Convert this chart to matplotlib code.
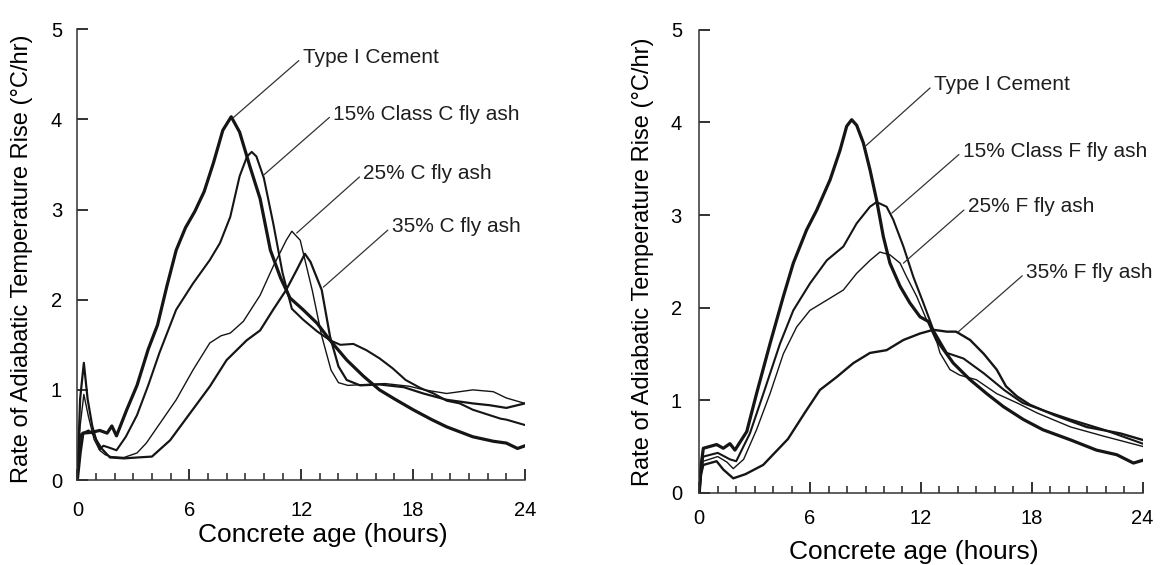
import numpy as np
import matplotlib as mpl
mpl.use('Agg')
import matplotlib.pyplot as plt
from matplotlib.ticker import MultipleLocator


plt.rcParams['font.family'] = ['Liberation Sans', 'DejaVu Sans']

# ---- left panel: Class C fly ash ----
c_type1_hr = [0, 0.15, 0.3, 0.8, 1.2, 1.6, 1.85, 2.1, 2.65, 3.2, 3.8, 4.3, 4.8, 5.3,
              5.8, 6.3, 6.8, 7.3, 7.8, 8.25, 8.7, 9.25, 9.8, 10.35, 10.9, 11.4,
              12.1, 12.85, 13.55, 14.45, 15.35, 16.2, 17.0, 18.0, 19.0, 19.8,
              21.2, 22.3, 23.0, 23.6, 24.0]
c_type1_rate = [0, 0.3, 0.52, 0.53, 0.55, 0.52, 0.6, 0.49, 0.78, 1.05, 1.45, 1.72,
                2.15, 2.55, 2.8, 2.98, 3.2, 3.52, 3.88, 4.03, 3.86, 3.48, 3.12,
                2.55, 2.24, 2.02, 1.89, 1.74, 1.55, 1.33, 1.15, 1.0, 0.9, 0.78,
                0.67, 0.59, 0.48, 0.43, 0.41, 0.35, 0.38]

c15_hr = [0, 0.15, 0.3, 0.6, 0.9, 1.05, 1.2, 1.4, 1.7, 2.1, 2.6, 3.2, 3.8, 4.4,
          5.3, 6.2, 7.1, 7.65, 8.2, 8.7, 9.1, 9.35, 9.6, 10.0, 10.5, 11.0, 11.5,
          12.1, 12.85, 13.55, 14.1, 14.8, 15.5, 16.2, 16.9, 17.6, 18.4, 19.1,
          19.8, 20.5, 21.2, 22.7, 23.0, 24.0]
c15_rate = [0, 0.5, 0.52, 0.55, 0.5, 0.43, 0.34, 0.38, 0.36, 0.33, 0.48, 0.72,
            1.05, 1.41, 1.89, 2.18, 2.44, 2.63, 2.92, 3.37, 3.59, 3.64, 3.59,
            3.35, 2.85, 2.3, 1.9, 1.78, 1.65, 1.55, 1.5, 1.51, 1.44, 1.35, 1.24,
            1.11, 1.02, 0.96, 0.88, 0.85, 0.78, 0.68, 0.67, 0.61]

c25_hr = [0, 0.15, 0.35, 0.6, 0.9, 1.2, 1.5, 1.8, 2.5, 3.2, 3.7, 4.4, 5.3, 6.2,
          7.1, 7.7, 8.2, 8.9, 9.8, 10.5, 11.2, 11.5, 11.95, 12.1, 12.6, 13.1,
          13.6, 14.0, 14.5, 15.5, 16.5, 17.8, 18.6, 19.8, 21.2, 22.3, 23.0,
          24.0]
c25_rate = [0, 0.6, 0.95, 0.7, 0.45, 0.33, 0.28, 0.26, 0.25, 0.3, 0.41, 0.62,
            0.89, 1.22, 1.52, 1.6, 1.63, 1.76, 2.05, 2.37, 2.66, 2.76, 2.66,
            2.53, 2.1, 1.6, 1.22, 1.08, 1.05, 1.06, 1.07, 1.04, 1.0, 0.96, 1.0,
            0.98, 0.91, 0.85]

c35_hr = [0, 0.15, 0.35, 0.55, 0.8, 1.0, 1.3, 1.75, 2.5, 3.2, 4.0, 4.97, 6.04,
          7.11, 8.0, 9.08, 9.8, 10.5, 11.2, 11.76, 12.2, 12.5, 13.1, 13.55,
          14.0, 14.44, 15.16, 16.2, 17.5, 18.55, 19.8, 21.2, 22.1, 23.0, 24.0]
c35_rate = [0, 0.9, 1.3, 0.9, 0.6, 0.45, 0.35, 0.25, 0.24, 0.25, 0.26, 0.44,
            0.74, 1.04, 1.33, 1.55, 1.66, 1.89, 2.11, 2.33, 2.51, 2.42, 2.11,
            1.59, 1.26, 1.11, 1.05, 1.06, 1.03, 0.96, 0.89, 0.85, 0.83, 0.80,
            0.85]

# ---- right panel: Class F fly ash ----
f_type1_hr = [0, 0.1, 0.22, 0.94, 1.3, 1.66, 1.93, 2.57, 3.1, 3.83, 4.55, 5.09,
              5.81, 6.35, 7.08, 7.62, 7.98, 8.25, 8.52, 8.88, 9.24, 9.6, 9.96,
              10.32, 10.87, 11.4, 11.95, 12.4, 12.85, 13.75, 14.66, 15.56, 16.46,
              17.55, 18.6, 20.1, 21.5, 22.6, 23.5, 24.0]
f_type1_rate = [0, 0.3, 0.48, 0.52, 0.48, 0.53, 0.46, 0.66, 1.07, 1.61, 2.12,
                2.48, 2.84, 3.05, 3.38, 3.70, 3.96, 4.03, 3.97, 3.78, 3.49, 3.16,
                2.77, 2.48, 2.23, 2.05, 1.90, 1.85, 1.65, 1.40, 1.22, 1.07, 0.93,
                0.79, 0.68, 0.57, 0.46, 0.41, 0.32, 0.35]

f15_hr = [0, 0.1, 0.22, 1.0, 1.66, 2.0, 2.74, 3.47, 4.37, 5.09, 5.99, 6.9, 7.8,
          8.52, 9.24, 9.6, 10.14, 10.5, 11.05, 11.59, 12.13, 12.67, 13.4, 14.3,
          15.4, 16.5, 17.5, 18.6, 20.1, 21.9, 24.0]
f15_rate = [0, 0.25, 0.39, 0.43, 0.36, 0.34, 0.64, 1.07, 1.61, 1.97, 2.26, 2.51,
            2.66, 2.91, 3.09, 3.14, 3.09, 2.95, 2.66, 2.33, 2.05, 1.76, 1.51,
            1.45, 1.29, 1.11, 0.97, 0.89, 0.79, 0.68, 0.53]

f25_hr = [0, 0.1, 0.22, 1.0, 1.5, 1.84, 2.4, 3.1, 3.83, 4.55, 5.27, 5.99, 6.9,
          7.8, 8.52, 9.24, 9.78, 10.32, 10.87, 11.23, 11.77, 12.3, 12.67, 13.03,
          13.57, 14.1, 15.0, 16.1, 17.2, 18.3, 20.1, 21.9, 24.0]
f25_rate = [0, 0.2, 0.34, 0.39, 0.33, 0.26, 0.36, 0.68, 1.07, 1.5, 1.79, 1.97,
            2.08, 2.19, 2.37, 2.51, 2.6, 2.57, 2.48, 2.33, 2.12, 1.87, 1.76,
            1.51, 1.33, 1.27, 1.22, 1.07, 0.97, 0.86, 0.71, 0.61, 0.50]

f35_hr = [0, 0.1, 0.22, 0.94, 1.3, 1.84, 2.5, 3.46, 4.8, 5.7, 6.53, 7.44, 8.34,
          9.24, 10.14, 11.05, 11.95, 12.67, 13.4, 13.9, 14.66, 15.4, 16.1, 16.6,
          17.2, 17.9, 19.2, 20.97, 22.8, 24.0]
f35_rate = [0, 0.2, 0.30, 0.34, 0.25, 0.155, 0.2, 0.3, 0.58, 0.86, 1.11, 1.25,
            1.40, 1.51, 1.54, 1.65, 1.72, 1.76, 1.74, 1.74, 1.65, 1.5, 1.33,
            1.15, 1.04, 0.95, 0.84, 0.71, 0.64, 0.57]

c_labels = ['Type I Cement', '15% Class C fly ash', '25% C fly ash', '35% C fly ash']
f_labels = ['Type I Cement', '15% Class F fly ash', '25% F fly ash', '35% F fly ash']

# label anchor (left edge of text) and leader end, data coords
c_text_xy = [(12.08, 4.69), (13.72, 4.06), (15.33, 3.40), (16.85, 2.81)]
c_leader_xy = [(8.36, 4.02), (9.97, 3.38), (11.76, 2.74), (13.19, 2.14)]
f_text_xy = [(12.7, 4.41), (14.26, 3.69), (14.53, 3.09), (17.69, 2.38)]
f_leader_xy = [(8.97, 3.74), (10.42, 3.02), (11.05, 2.48), (14.03, 1.74)]

ink = '#151515'


def draw_panel(ax, series, widths, labels, text_xy, leader_xy,
               xtick_pad, ytick_pad, xlabel_xy, ylabel_xy):
    for (hr, rate), lw in zip(series, widths):
        ax.plot(hr, rate, color=ink, lw=lw, solid_joinstyle='round')
    for lab, txy, lxy in zip(labels, text_xy, leader_xy):
        ax.annotate(lab, xy=lxy, xytext=txy, ha='left', va='center',
                    fontsize=15, color='#1e1e1e',
                    arrowprops=dict(arrowstyle='-', color='#333333', lw=0.9,
                                    relpos=(0, 0.5), shrinkA=1, shrinkB=0))
    ax.set_xlim(0, 24)
    ax.set_ylim(0, 5)
    ax.set_xticks([0, 6, 12, 18, 24])
    ax.set_yticks([0, 1, 2, 3, 4, 5])
    ax.xaxis.set_minor_locator(MultipleLocator(1))
    ax.tick_params(axis='both', which='major', direction='in', length=8,
                   width=1.3, color='#222222', labelsize=14.5)
    ax.tick_params(axis='x', which='minor', direction='in', length=5,
                   width=1.1, color='#222222')
    ax.tick_params(axis='x', which='major', pad=xtick_pad)
    ax.tick_params(axis='y', which='major', pad=ytick_pad)
    for side in ['top', 'right']:
        ax.spines[side].set_visible(False)
    for side in ['left', 'bottom']:
        ax.spines[side].set_color('#333333')
        ax.spines[side].set_linewidth(1.1)
    ax.set_xlabel('Concrete age (hours)', fontsize=19)
    ax.xaxis.set_label_coords(*xlabel_xy)
    ax.xaxis.label.set_verticalalignment('center')
    ax.set_ylabel('Rate of Adiabatic Temperature Rise (°C/hr)', fontsize=17)
    ax.yaxis.set_label_coords(*ylabel_xy)
    ax.yaxis.label.set_verticalalignment('center')
    return


fig = plt.figure(figsize=(11.61, 5.65), dpi=100)
ax1 = fig.add_axes([0.0666, 0.1504, 0.3856, 0.7977])
ax2 = fig.add_axes([0.6023, 0.1280, 0.3819, 0.8190])
#
draw_panel(ax1,
           [(c_type1_hr, c_type1_rate), (c15_hr, c15_rate),
            (c25_hr, c25_rate), (c35_hr, c35_rate)],
           [2.3, 1.5, 1.0, 1.6], c_labels, c_text_xy, c_leader_xy,
           xtick_pad=15, ytick_pad=11,
           xlabel_xy=(0.548, -0.122), ylabel_xy=(-0.1235, 0.49))
#
draw_panel(ax2,
           [(f_type1_hr, f_type1_rate), (f15_hr, f15_rate),
            (f25_hr, f25_rate), (f35_hr, f35_rate)],
           [2.3, 1.5, 1.0, 1.7], f_labels, f_text_xy, f_leader_xy,
           xtick_pad=12, ytick_pad=12.5,
           xlabel_xy=(0.483, -0.1275), ylabel_xy=(-0.127, 0.5))
#
plt.savefig('out.png', dpi=100)
plt.close()
